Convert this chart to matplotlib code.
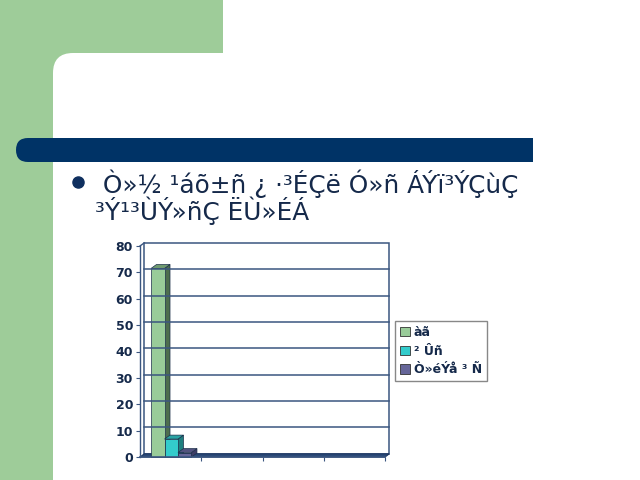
import numpy as np
import matplotlib
matplotlib.use('Agg')
from matplotlib import pyplot as plt
from matplotlib.patches import Rectangle, Polygon, FancyBboxPatch, Patch

# data
categories = ['1', '2', '3', '4']
series_names = ['àã', '² Ûñ', 'Ò»éÝå ³ Ñ']
series_values = [
    [71.5, 0, 0, 0],
    [6.8, 0, 0, 0],
    [1.7, 0, 0, 0],
]
yticks = [0, 10, 20, 30, 40, 50, 60, 70, 80]
bullet_lines = [' Ò»½ ¹áõ±ñ ¿ ·³ÉÇë Ó»ñ ÁÝï³ÝÇùÇ', '³Ý¹³ÙÝ»ñÇ ËÙ»ÉÁ']

face_cols = ['#99cc99', '#33cccc', '#666699']
side_cols = ['#4d6e4d', '#1f7f7f', '#3d3d66']
top_cols = ['#6f9a6f', '#2aa3a3', '#52527f']
navy = '#003366'
txt_col = '#15294a'

fig = plt.figure(figsize=(6.4, 4.8), dpi=100)
fig.patch.set_facecolor('white')

# slide decoration
deco = fig.add_axes([0, 0, 1, 1])
deco.set_xlim(0, 640)
deco.set_ylim(480, 0)
deco.axis('off')
deco.add_patch(Rectangle((0, 0), 223, 90, color='#9ecc99', lw=0))
deco.add_patch(Rectangle((0, 0), 53, 480, color='#9ecc99', lw=0))
deco.add_patch(FancyBboxPatch((53, 53), 620, 460, boxstyle='round,pad=0,rounding_size=20',
                              color='white', lw=0))
deco.add_patch(FancyBboxPatch((16, 138), 60, 24, boxstyle='round,pad=0,rounding_size=12',
                              color=navy, lw=0))
deco.add_patch(Rectangle((40, 138), 493, 24, color=navy, lw=0))

deco.plot([77.5], [182], 'o', ms=8, color='#0f2f5f')
deco.text(95, 193, bullet_lines[0], fontsize=17.8, color=txt_col, va='baseline', ha='left')
deco.text(95, 220, bullet_lines[1], fontsize=17.8, color=txt_col, va='baseline', ha='left')

# chart
ax = fig.add_axes([140/640, (480-457)/480, 245/640, 211/480])
ax.set_xlim(0, len(categories))
ax.set_ylim(0, 80)
ax.patch.set_alpha(0)
for s in ax.spines.values():
    s.set_visible(False)

wdx, wdy = 0.07, 1.2  # back wall offset
grid_col = '#3b5680'
ax.add_patch(Rectangle((wdx, wdy), len(categories), 80, fill=False, ec=grid_col, lw=1.1, clip_on=False))
for t in yticks[1:-1]:
    ax.plot([wdx, len(categories) + wdx], [t + wdy, t + wdy], color=grid_col, lw=1.1, clip_on=False)
ax.plot([0, wdx], [80, 80 + wdy], color=grid_col, lw=1, clip_on=False)
ax.plot([0, 0], [0, 80], color=grid_col, lw=1, clip_on=False)

# floor
ax.add_patch(Polygon([(0, 0), (len(categories), 0), (len(categories) + wdx, wdy), (wdx, wdy)],
                     closed=True, fc='#2b4a78', ec='#1c3560', lw=0.8, clip_on=False))
ax.plot([0, len(categories)], [0, 0], color=grid_col, lw=1.2, clip_on=False)

# 3d bars
bw = 0.22
bdx, bdy = 0.09, 1.5
x0 = np.arange(len(categories)) + 0.18
for j, vals in enumerate(series_values):
    for i, h in enumerate(vals):
        if h <= 0:
            continue
        x = x0[i] + j * bw
        ax.add_patch(Polygon([(x + bw, 0), (x + bw + bdx, bdy), (x + bw + bdx, h + bdy), (x + bw, h)],
                             closed=True, fc=side_cols[j], ec='#1c2e4a', lw=0.5, clip_on=False))
        ax.add_patch(Polygon([(x, h), (x + bw, h), (x + bw + bdx, h + bdy), (x + bdx, h + bdy)],
                             closed=True, fc=top_cols[j], ec='#1c2e4a', lw=0.5, clip_on=False))
        ax.add_patch(Rectangle((x, 0), bw, h, fc=face_cols[j], ec='#1c2e4a', lw=0.5, clip_on=False))

ax.set_yticks(yticks)
ax.set_yticklabels([str(t) for t in yticks], fontsize=9, fontweight='bold', color=txt_col)
ax.set_xticks(range(1, len(categories) + 1))
ax.set_xticklabels([])
ax.tick_params(axis='y', length=3, color=grid_col, pad=2)
ax.tick_params(axis='x', length=3, color=grid_col)

handles = [Patch(fc=face_cols[j], ec='#333333', lw=0.6) for j in range(len(series_names))]
leg = fig.legend(handles, series_names, loc='upper left', bbox_to_anchor=(395/640, 1 - 321/480),
                 fancybox=False, edgecolor='#888888', framealpha=1, borderaxespad=0,
                 handlelength=0.8, handleheight=0.8, handletextpad=0.3, labelspacing=0.45,
                 borderpad=0.4, prop={'size': 9, 'weight': 'bold'})
for t in leg.get_texts():
    t.set_color(txt_col)

fig.savefig('out.png', dpi=100)
